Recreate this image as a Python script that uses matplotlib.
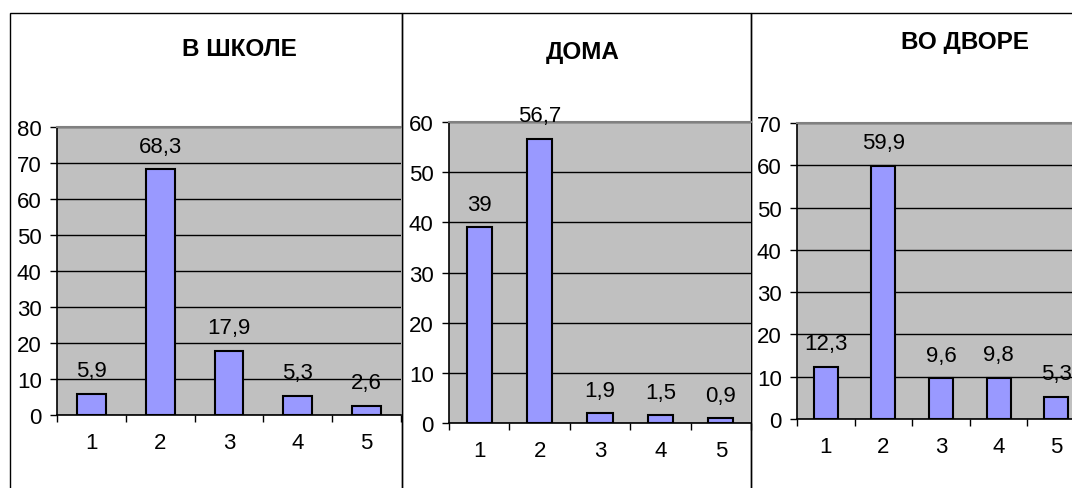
import matplotlib
matplotlib.use("Agg")
import matplotlib.pyplot as plt
from matplotlib.patches import Rectangle

plt.rcParams['font.family'] = ['Liberation Sans', 'DejaVu Sans']

categories = ["1", "2", "3", "4", "5"]
titles = ["В ШКОЛЕ", "ДОМА", "ВО ДВОРЕ"]
school = [5.9, 68.3, 17.9, 5.3, 2.6]
home = [39, 56.7, 1.9, 1.5, 0.9]
yard = [12.3, 59.9, 9.6, 9.8, 5.3]
labels_school = ["5,9", "68,3", "17,9", "5,3", "2,6"]
labels_home = ["39", "56,7", "1,9", "1,5", "0,9"]
labels_yard = ["12,3", "59,9", "9,6", "9,8", "5,3"]
ymax = [80, 60, 70]

W, H = 1072, 489
fig = plt.figure(figsize=(W / 100, H / 100), dpi=100)

# panel frames (pixels: left, right, top)
frames = [(10, 402, 14), (402, 751, 14), (751, 1080, 14)]
for (l, r, t) in frames:
    fig.add_artist(Rectangle((l / W, -0.1), (r - l) / W, (H - t) / H + 0.1,
                             transform=fig.transFigure, fill=False,
                             edgecolor='black', linewidth=1.0, zorder=0))

# axes in pixels: left, right, top, bottom
boxes = [(57, 401, 128, 416), (449, 751, 123, 424), (797, 1085, 124, 420)]
title_pos = [(239, 50), (583, 52), (965, 43)]
datas = [school, home, yard]
lbls = [labels_school, labels_home, labels_yard]

FS = 16
for i in range(3):
    l, r, t, b = boxes[i]
    ax = fig.add_axes([l / W, (H - b) / H, (r - l) / W, (b - t) / H])
    ax.set_facecolor('#C0C0C0')
    x = list(range(len(categories)))
    ax.bar(x, datas[i], width=0.42, color='#9999FF', edgecolor='black',
           linewidth=1.5, zorder=3)
    ax.set_xlim(-0.5, 4.5)
    ax.set_ylim(0, ymax[i])
    ax.set_yticks(range(0, ymax[i] + 1, 10))
    ax.yaxis.grid(True, color='black', linewidth=1.0, zorder=1)
    ax.set_axisbelow(True)
    ax.set_xticks(x)
    ax.set_xticklabels(categories)
    ax.set_xticks([v - 0.5 for v in range(6)], minor=True)
    ax.tick_params(axis='x', which='major', length=0, pad=12, labelsize=FS)
    ax.tick_params(axis='x', which='minor', length=5, width=1, direction='out')
    ax.tick_params(axis='y', length=5, width=1, pad=6, labelsize=FS)
    ax.spines['top'].set_color('#808080')
    ax.spines['top'].set_linewidth(1.5)
    ax.spines['right'].set_visible(False)
    for s in ['left', 'bottom']:
        ax.spines[s].set_color('black')
        ax.spines[s].set_linewidth(1.2)
    for xi, v, s in zip(x, datas[i], lbls[i]):
        ax.annotate(s, (xi, v), xytext=(0, 9), textcoords='offset points',
                    ha='center', va='bottom', fontsize=FS, zorder=5,
                    annotation_clip=False)
    tx, ty = title_pos[i]
    fig.text(tx / W, 1 - ty / H, titles[i], ha='center', va='center',
             fontsize=17.5, fontweight='bold')

fig.savefig('out.png', dpi=100)
